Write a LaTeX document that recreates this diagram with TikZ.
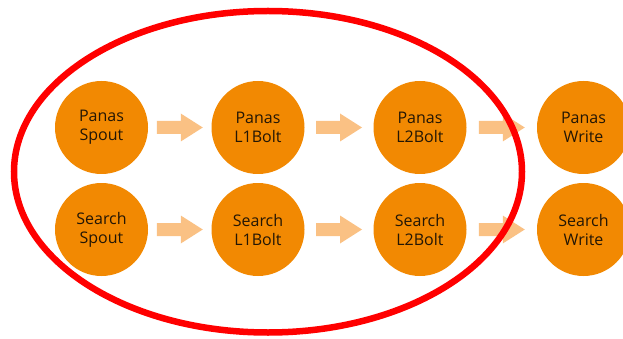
\documentclass[tikz,border=0pt]{standalone}
\usepackage{fontspec}
\setmainfont{Open Sans}
\usetikzlibrary{calc,shapes.geometric}
\definecolor{circfill}{RGB}{242,137,2}
\definecolor{arrfill}{RGB}{250,193,132}
\definecolor{txt}{RGB}{35,22,5}
\definecolor{ring}{RGB}{255,0,0}
\begin{document}
\begin{tikzpicture}[x=1pt,y=-1pt,
  task/.style={circle,fill=circfill,minimum size=93pt,inner sep=0pt,
    text=txt,align=center,font=\fontsize{16}{19}\selectfont},
  fatarrowfill/.style={fill=arrfill}]
\useasboundingbox (0,0) rectangle (623,339);
\newcommand{\fatarr}[2]{%
  \path let \p1=($(#1.east)!0.5!(#2.west)$) in
    [fatarrowfill] (\x1-23pt,\y1+6.5pt) -- (\x1+1pt,\y1+6.5pt) -- (\x1+1pt,\y1+14pt)
    -- (\x1+23pt,\y1) -- (\x1+1pt,\y1-14pt) -- (\x1+1pt,\y1-6.5pt)
    -- (\x1-23pt,\y1-6.5pt) -- cycle;}
\node[task] (ps) at (101.5,127.5) {Panas\\Spout};
\node[task] (p1) at (258,127.5) {Panas\\L1Bolt};
\node[task] (p2) at (420,127.5) {Panas\\L2Bolt};
\node[task] (pw) at (583.5,127.5) {Panas\\Write};
\node[task] (ss) at (101.5,229.5) {Search\\Spout};
\node[task] (s1) at (258,229.5) {Search\\L1Bolt};
\node[task] (s2) at (420,229.5) {Search\\L2Bolt};
\node[task] (sw) at (583.5,229.5) {Search\\Write};
\fatarr{ps}{p1}
\fatarr{p1}{p2}
\fatarr{p2}{pw}
\fatarr{ss}{s1}
\fatarr{s1}{s2}
\fatarr{s2}{sw}
\node[draw=ring,line width=6.5pt,ellipse,minimum width=508pt,minimum height=321.5pt,inner sep=0pt] (grp) at (268,171.75) {};
\end{tikzpicture}
\end{document}
